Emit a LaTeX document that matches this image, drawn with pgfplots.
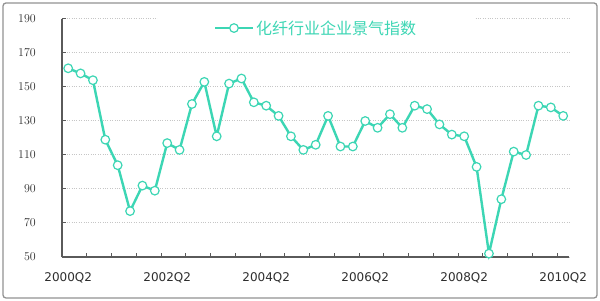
\documentclass[border=0pt]{standalone}
\usepackage{pgfplots}
\pgfplotsset{compat=1.18}
\usepackage{fontspec}
\setmainfont{DejaVu Sans}
\newfontfamily\cjk{Noto Sans CJK SC}
\definecolor{lc}{HTML}{3CD6B4}
\definecolor{axc}{HTML}{5A5A5A}
\definecolor{tc}{HTML}{2E2E2E}
\pgfplotstableread{
idx val
1 161
2 158
3 154
4 119
5 104
6 77
7 92
8 89
9 117
10 113
11 140
12 153
13 121
14 152
15 155
16 141
17 139
18 133
19 121
20 113
21 116
22 133
23 115
24 115
25 130
26 126
27 134
28 126
29 139
30 137
31 128
32 122
33 121
34 103
35 52
36 84
37 112
38 110
39 139
40 138
41 133
}\datatable
\begin{document}
\begin{tikzpicture}
\useasboundingbox (0,0) rectangle (600bp,301bp);
\fill[white] (0,0) rectangle (600bp,301bp);
\draw[gray!85, line width=1.3bp, rounded corners=3bp] (3bp,3bp) rectangle (597bp,298bp);
\begin{axis}[
  at={(62bp,44bp)}, anchor=south west,
  scale only axis, width=507.4bp, height=238bp,
  xmin=0.5, xmax=41.5, ymin=50, ymax=190,
  axis x line=bottom, axis y line=left,
  axis line style={-, draw=axc, line width=1.4bp},
  xtick={1,9,17,25,33,41},
  xticklabels={2000Q2,2002Q2,2004Q2,2006Q2,2008Q2,2010Q2},
  minor xtick={2.5,4.5,...,40.5},
  major x tick style={draw=none},
  minor x tick style={draw=axc, line width=1bp},
  minor tick length=4bp,
  ytick={50,70,...,190},
  major y tick style={draw=axc, line width=1bp},
  major tick length=4bp,
  tick align=inside,
  ymajorgrids,
  major grid style={dotted, draw=gray!45, line width=1bp},
  ticklabel style={font=\fontsize{12bp}{14bp}\selectfont, text=tc},
  yticklabel style={anchor=east, inner sep=0pt, xshift=-26bp},
  xticklabel style={anchor=north, inner sep=0pt, yshift=-15bp},
  clip=false,
  legend style={at={(0.5006,0.962)}, anchor=center, draw=none, fill=white,
    inner xsep=56bp, inner ysep=5bp,
    font=\cjk\fontsize{16bp}{18bp}\selectfont, text=lc,
    /tikz/every even column/.append style={column sep=0pt}},
  legend image code/.code={
    \draw[#1, mark=none] (0bp,0bp) -- (38bp,0bp);
    \draw[#1, only marks] plot coordinates {(19bp,0bp)};
  },
]
\addplot[color=lc, line width=2.4bp, mark=*, mark size=4.3bp,
  mark options={solid, fill=white, draw=lc, line width=1.2bp}]
  table[x=idx, y=val] {\datatable};
\addlegendentry{化纤行业企业景气指数}
\end{axis}
\end{tikzpicture}
\end{document}
